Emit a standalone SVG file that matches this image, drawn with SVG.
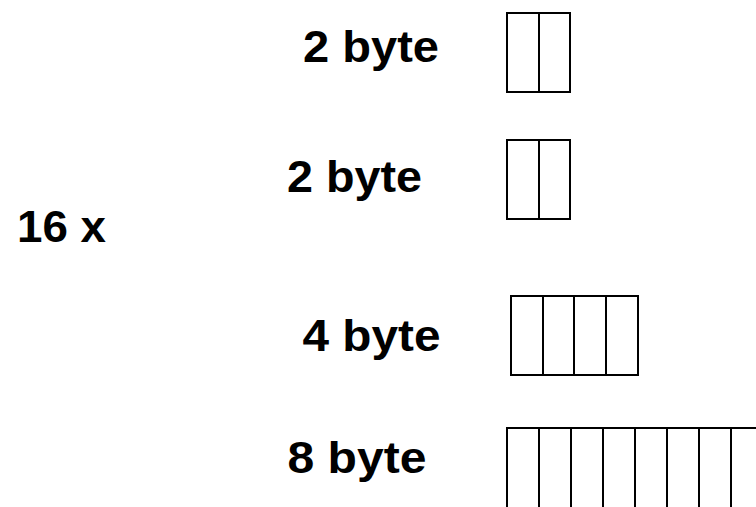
<svg xmlns="http://www.w3.org/2000/svg" width="756" height="507" viewBox="0 0 756 507">
<style>
.t{font-family:"Liberation Sans",Arial,Helvetica,sans-serif;font-weight:bold;font-size:44px;fill:#000}
.b{fill:none;stroke:#000;stroke-width:2}
</style>
<rect width="756" height="507" fill="#fff"/>
<g id="multiplier"><text class="t" x="17" y="242" textLength="89" lengthAdjust="spacingAndGlyphs">16 x</text></g>
<g id="field1">
<text class="t" x="303" y="62" textLength="136" lengthAdjust="spacingAndGlyphs">2 byte</text>
<rect class="b" x="507" y="13" width="63" height="79"/>
<line class="b" x1="539" y1="13" x2="539" y2="92"/>
</g>
<g id="field2">
<text class="t" x="287" y="192" textLength="135" lengthAdjust="spacingAndGlyphs">2 byte</text>
<rect class="b" x="507" y="140" width="63" height="79"/>
<line class="b" x1="539" y1="140" x2="539" y2="219"/>
</g>
<g id="field3">
<text class="t" x="302.5" y="351" textLength="138" lengthAdjust="spacingAndGlyphs">4 byte</text>
<rect class="b" x="511" y="296" width="127" height="79"/>
<line class="b" x1="543" y1="296" x2="543" y2="375"/>
<line class="b" x1="574" y1="296" x2="574" y2="375"/>
<line class="b" x1="606" y1="296" x2="606" y2="375"/>
</g>
<g id="field4">
<text class="t" x="287.5" y="473" textLength="139" lengthAdjust="spacingAndGlyphs">8 byte</text>
<rect class="b" x="507" y="428" width="256" height="100"/>
<line class="b" x1="539" y1="428" x2="539" y2="510"/>
<line class="b" x1="571" y1="428" x2="571" y2="510"/>
<line class="b" x1="603" y1="428" x2="603" y2="510"/>
<line class="b" x1="635" y1="428" x2="635" y2="510"/>
<line class="b" x1="667" y1="428" x2="667" y2="510"/>
<line class="b" x1="699" y1="428" x2="699" y2="510"/>
<line class="b" x1="731" y1="428" x2="731" y2="510"/>
</g>
<g id="connectors"></g>
</svg>
